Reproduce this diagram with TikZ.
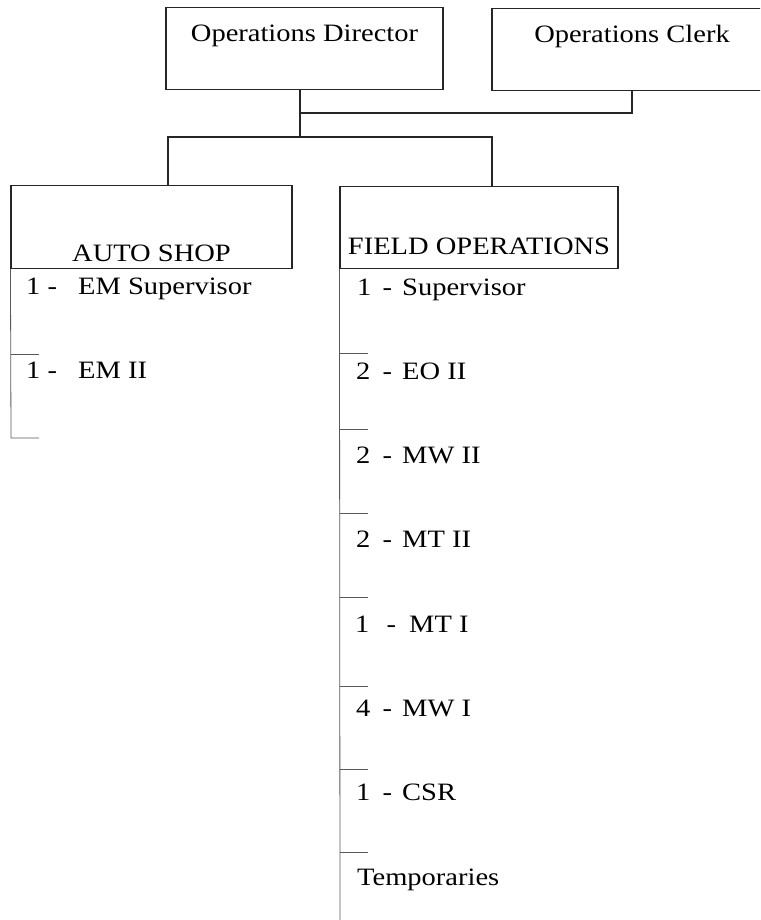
\documentclass[tikz,border=0pt]{standalone}
\usepackage{fontspec}
\setmainfont{Liberation Serif}[FakeStretch=1.14]
\usetikzlibrary{calc}
\newcommand\rl[4]{#1\hspace{#2pt} -\hspace{#3pt} #4}
\begin{document}
\begin{tikzpicture}[x=1pt,y=-1pt,
  every node/.style={font=\fontsize{25}{30}\selectfont},
  box/.style={draw=black!85,line width=1.1pt,inner sep=0pt,align=center},
  ln/.style={draw=black!85,line width=1.1pt},
  col/.style={draw=black!65,line width=0.8pt},
  item/.style={anchor=base west,inner sep=0pt}]
\useasboundingbox (0,0) rectangle (760,920);
\clip (0,0) rectangle (760,920);
% top boxes
\node[box,minimum width=277pt,text height=34pt,text depth=48pt,anchor=north] (dir) at (304.5,7) {Operations Director};
\node[box,minimum width=280pt,text height=34pt,text depth=48pt,anchor=north] (clerk) at (632,8) {Operations Clerk};
% department boxes
\node[box,minimum width=281pt,text height=76pt,text depth=7pt,anchor=north] (auto) at (151.5,185) {AUTO SHOP};
\node[box,minimum width=278pt,text height=68pt,text depth=14pt,anchor=north] (field) at (479,186) {FIELD OPERATIONS};
% connectors
\coordinate (j1) at (300,113);
\coordinate (j2) at (300,137);
\coordinate (aIn) at (168,185);
\coordinate (fIn) at (492,186);
\draw[ln] (dir.south -| j1) -- (j1) -| (clerk.south);
\draw[ln] (j1) -- (j2);
\draw[ln] (aIn) |- (j2) -| (fIn);
% auto shop column
\coordinate (aEnd) at (11,438);
\draw[col] (auto.south west) -- (aEnd) -- ++(28,0);
\draw[col] (11,354) -- ++(28,0);
\node[item] (a1) at (26,294) {\rl{1}{0}{14}{EM Supervisor}};
\node[item] (a2) at (26,378) {\rl{1}{0}{14}{EM II}};
% field operations column
\coordinate (fEnd) at (340,920);
\draw[col] (field.south west) -- (fEnd);
\foreach \yy in {353,429,513,597,686,769,852}{
  \draw[col] (340,\yy) -- ++(28,0);
}
\node[item] (f1) at (357,295) {\rl{1}{4}{3}{Supervisor}};
\node[item] (f2) at (356,379) {\rl{2}{5}{3}{EO II}};
\node[item] (f3) at (356,463) {\rl{2}{5}{3}{MW II}};
\node[item] (f4) at (356,547) {\rl{2}{5}{3}{MT II}};
\node[item] (f5) at (355,632) {\rl{1}{10}{6}{MT I}};
\node[item] (f6) at (356,716) {\rl{4}{5}{3}{MW I}};
\node[item] (f7) at (356,800) {\rl{1}{5}{3}{CSR}};
\node[item] (f8) at (357,885) {Temporaries};
\end{tikzpicture}
\end{document}
